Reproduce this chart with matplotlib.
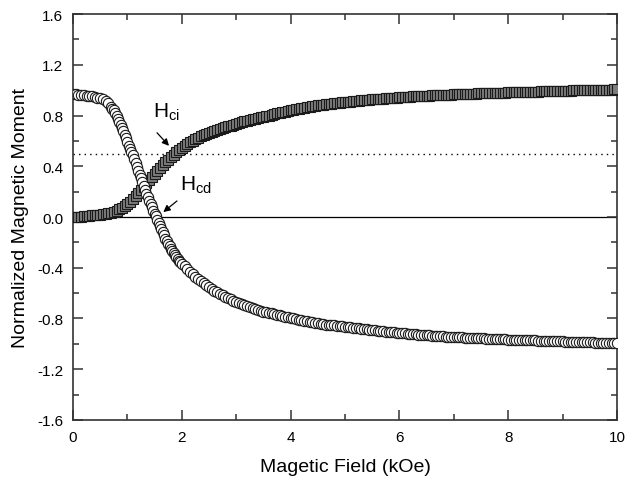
import numpy as np
import matplotlib
matplotlib.use('Agg')
import matplotlib.pyplot as plt

plt.rcParams['font.family'] = ['Liberation Sans', 'DejaVu Sans']
plt.rcParams['mathtext.fontset'] = 'custom'
plt.rcParams['mathtext.rm'] = 'Liberation Sans'

# demagnetisation branch (open circles), field in kOe
field_down = np.concatenate([
    np.round(np.arange(0.0, 0.6501, 0.05), 2),
    np.round(np.arange(0.7, 2.0001, 0.025), 3),
    np.round(np.arange(2.05, 2.2501, 0.05), 2),
    np.round(np.arange(2.3, 10.0001, 0.05), 2),
])
moment_down = [
    0.97, 0.968, 0.965, 0.962, 0.96, 0.957, 0.954, 0.95, 0.946, 0.941,
    0.935, 0.927, 0.915, 0.895,
    0.87, 0.855, 0.84, 0.82, 0.80, 0.775, 0.75, 0.725, 0.70, 0.675,
    0.65, 0.62, 0.59, 0.56, 0.535, 0.51, 0.485, 0.455, 0.425, 0.395,
    0.365, 0.335, 0.305, 0.275, 0.245, 0.215, 0.185, 0.155, 0.125, 0.10,
    0.075, 0.05, 0.025, 0.005, -0.02, -0.045, -0.07, -0.095, -0.12, -0.145,
    -0.17, -0.19, -0.21, -0.23, -0.25, -0.27, -0.285, -0.30, -0.315, -0.33,
    -0.345, -0.355, -0.37,
    -0.39, -0.41, -0.43, -0.45, -0.47,
    -0.490, -0.505, -0.520, -0.535, -0.550, -0.565, -0.580, -0.593, -0.605, -0.618,
    -0.630, -0.640, -0.650, -0.660, -0.670, -0.678, -0.685, -0.693, -0.700, -0.708,
    -0.715, -0.723, -0.730, -0.738, -0.745, -0.750, -0.755, -0.760, -0.765, -0.770,
    -0.775, -0.780, -0.785, -0.790, -0.795, -0.800, -0.805, -0.810, -0.815, -0.818,
    -0.820, -0.825, -0.830, -0.833, -0.835, -0.840, -0.845, -0.848, -0.850, -0.853,
    -0.855, -0.858, -0.860, -0.863, -0.865, -0.868, -0.870, -0.873, -0.875, -0.878,
    -0.880, -0.883, -0.885, -0.888, -0.890, -0.893, -0.895, -0.898, -0.900, -0.903,
    -0.905, -0.908, -0.910, -0.913, -0.915, -0.917, -0.918, -0.920, -0.922, -0.924,
    -0.926, -0.928, -0.930, -0.931, -0.933, -0.934, -0.935, -0.937, -0.938, -0.940,
    -0.941, -0.942, -0.943, -0.945, -0.946, -0.947, -0.948, -0.949, -0.950, -0.951,
    -0.952, -0.953, -0.954, -0.955, -0.956, -0.957, -0.958, -0.959, -0.960, -0.961,
    -0.962, -0.963, -0.964, -0.965, -0.966, -0.967, -0.967, -0.968, -0.969, -0.970,
    -0.970, -0.971, -0.972, -0.973, -0.973, -0.974, -0.975, -0.976, -0.976, -0.977,
    -0.978, -0.979, -0.979, -0.980, -0.981, -0.982, -0.982, -0.983, -0.984, -0.985,
    -0.985, -0.986, -0.987, -0.988, -0.988, -0.989, -0.990, -0.990, -0.991, -0.992,
    -0.992, -0.993, -0.994, -0.994, -0.995,
]

# remanence branch (grey squares)
field_up = np.concatenate([
    np.round(np.arange(0.0, 0.7501, 0.05), 2),
    np.round(np.arange(0.8, 2.3001, 0.05), 2),
    np.round(np.arange(2.35, 10.0001, 0.05), 2),
])
moment_up = [
    0.0, 0.001, 0.003, 0.004, 0.006, 0.008, 0.01, 0.012, 0.013, 0.015,
    0.018, 0.021, 0.025, 0.03, 0.035, 0.042,
    0.05, 0.06, 0.07, 0.085, 0.10, 0.12, 0.14, 0.165, 0.19, 0.215,
    0.24, 0.265, 0.29, 0.315, 0.34, 0.365, 0.39, 0.41, 0.43, 0.45,
    0.47, 0.49, 0.51, 0.53, 0.545, 0.56, 0.575, 0.59, 0.60, 0.615, 0.625,
    0.635, 0.645, 0.653, 0.660, 0.670, 0.680, 0.688, 0.695, 0.703, 0.710,
    0.715, 0.720, 0.728, 0.735, 0.740, 0.745, 0.753, 0.760, 0.765, 0.770,
    0.775, 0.780, 0.785, 0.790, 0.795, 0.800, 0.805, 0.810, 0.817, 0.823,
    0.827, 0.830, 0.835, 0.840, 0.845, 0.850, 0.855, 0.859, 0.862, 0.866,
    0.870, 0.874, 0.877, 0.880, 0.883, 0.885, 0.888, 0.890, 0.893, 0.895,
    0.898, 0.900, 0.903, 0.905, 0.908, 0.910, 0.913, 0.915, 0.917, 0.919,
    0.921, 0.923, 0.925, 0.927, 0.929, 0.930, 0.932, 0.934, 0.935, 0.937,
    0.938, 0.940, 0.942, 0.943, 0.944, 0.946, 0.947, 0.948, 0.950, 0.951,
    0.952, 0.953, 0.955, 0.956, 0.957, 0.958, 0.959, 0.960, 0.961, 0.962,
    0.963, 0.964, 0.965, 0.966, 0.967, 0.968, 0.969, 0.970, 0.971, 0.972,
    0.972, 0.973, 0.974, 0.975, 0.976, 0.976, 0.977, 0.978, 0.979, 0.979,
    0.980, 0.981, 0.981, 0.982, 0.983, 0.983, 0.984, 0.985, 0.985, 0.986,
    0.987, 0.987, 0.988, 0.989, 0.989, 0.990, 0.991, 0.991, 0.992, 0.993,
    0.993, 0.994, 0.995, 0.995, 0.996, 0.997, 0.997, 0.998, 0.999, 0.999,
    1.000, 1.000, 1.001, 1.001, 1.002, 1.002, 1.003, 1.003, 1.004, 1.004,
    1.005, 1.005, 1.006, 1.006,
]

x_ticks = [0, 2, 4, 6, 8, 10]
y_ticks = [-1.6, -1.2, -0.8, -0.4, 0.0, 0.4, 0.8, 1.2, 1.6]

fig = plt.figure(figsize=(6.32, 4.85), dpi=100)
ax = fig.add_axes([0.1155, 0.132, 0.8608, 0.837])

ax.axhline(0.0, color='black', lw=0.9, zorder=1)
ax.axhline(0.5, color='black', lw=1.0, ls=(0, (1, 3)), zorder=1)

ax.plot(field_up, moment_up, ls='none', marker='s', ms=7.0,
        mfc='#7c7c7c', mec='#1a1a1a', mew=0.8, zorder=3)
ax.plot(field_down, moment_down, ls='none', marker='o', ms=7.4,
        mfc='white', mec='#1a1a1a', mew=0.8, zorder=4)

ax.set_xlim(0, 10)
ax.set_ylim(-1.6, 1.6)
ax.set_xticks(x_ticks)
ax.set_yticks(y_ticks)
ax.set_xticks(np.arange(1, 10, 2), minor=True)
ax.set_yticks(np.arange(-1.4, 1.5, 0.4), minor=True)
ax.set_yticklabels([f'{v:.1f}' for v in y_ticks])
ax.tick_params(which='both', direction='in', top=True, right=True, labelsize=11,
               color='#333333', width=1.1)
ax.tick_params(which='major', length=7)
ax.tick_params(which='minor', length=4)
ax.tick_params(axis='x', pad=7)
ax.tick_params(axis='y', pad=7)
for sp in ax.spines.values():
    sp.set_linewidth(1.2)
    sp.set_color('#333333')

ax.set_xlabel('Magetic Field (kOe)', fontsize=14, labelpad=10)
ax.set_ylabel('Normalized Magnetic Moment', fontsize=14, labelpad=6)

ax.text(1.47, 0.79, r'H$_{\mathrm{ci}}$', fontsize=15, va='baseline')
ax.text(1.97, 0.22, r'H$_{\mathrm{cd}}$', fontsize=15, va='baseline')
ax.annotate('', xy=(1.80, 0.545), xytext=(1.51, 0.68),
            arrowprops=dict(arrowstyle='-|>', color='black', lw=0.9, mutation_scale=10))
ax.annotate('', xy=(1.62, 0.025), xytext=(1.95, 0.14),
            arrowprops=dict(arrowstyle='-|>', color='black', lw=0.9, mutation_scale=10))

fig.savefig('out.png', dpi=100)
